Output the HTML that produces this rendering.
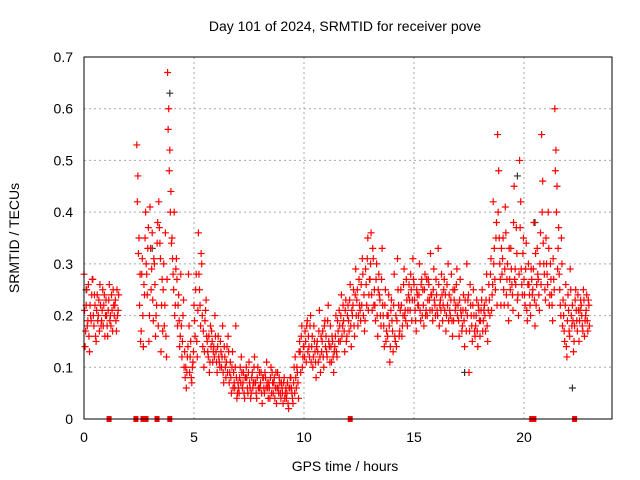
<!DOCTYPE html>
<html><head><meta charset="utf-8"><style>
body{margin:0;background:#fff;}
svg{display:block;font-family:"Liberation Sans",sans-serif;}
</style></head><body>
<svg id="chart" width="640" height="480" viewBox="0 0 640 480">
<text x="345" y="31" font-size="14" text-anchor="middle">Day 101 of 2024, SRMTID for receiver pove</text>
<text x="345" y="471" font-size="14" text-anchor="middle">GPS time / hours</text>
<text transform="translate(19,238) rotate(-90)" font-size="14" text-anchor="middle">SRMTID / TECUs</text>
<g id="grid"></g>
<g id="ticks"></g>
<g id="black"></g>
<g id="red"></g>
<rect x="84" y="57" width="528" height="362" fill="none" stroke="#000" stroke-width="1"/>
</svg>
<script>
const xTicks=[0,5,10,15,20];
const yTicks=[0,0.1,0.2,0.3,0.4,0.5,0.6,0.7];
const yTickLabels=["0","0.1","0.2","0.3","0.4","0.5","0.6","0.7"];
const hours=[0,0.2,0.4,0.6,0.8,1.0,1.2,1.4,2.4,2.6,2.8,3.0,3.2,3.4,3.6,3.8,4.0,4.2,4.4,4.6,4.8,5.0,5.2,5.4,5.6,5.8,6.0,6.2,6.4,6.6,6.8,7.0,7.2,7.4,7.6,7.8,8.0,8.2,8.4,8.6,8.8,9.0,9.2,9.4,9.6,9.8,10.0,10.2,10.4,10.6,10.8,11.0,11.2,11.4,11.6,11.8,12.0,12.2,12.4,12.6,12.8,13.0,13.2,13.4,13.6,13.8,14.0,14.2,14.4,14.6,14.8,15.0,15.2,15.4,15.6,15.8,16.0,16.2,16.4,16.6,16.8,17.0,17.2,17.4,17.6,17.8,18.0,18.2,18.4,18.6,18.8,19.0,19.2,19.4,19.6,19.8,20.0,20.2,20.4,20.6,20.8,21.0,21.2,21.4,21.6,21.8,22.0,22.2,22.4,22.6,22.8];
const srmtid=[[.28,.14,.22,.18],[.26,.13,.20,.24],[.27,.18,.22,.15],[.24,.20,.17,.22],[.19,.25,.22,.16],[.23,.18,.21,.26],[.20,.24,.17,.22],[.22,.19,.25,.21],
[.53,.47,.35,.28],[.17,.31,.14,.24],[.40,.28,.33,.15],[.41,.25,.36,.19],[.30,.16,.22,.38],[.42,.34,.13,.27],[.25,.18,.36,.12],[.67,.60,.52,.44],[.35,.28,.40,.22],[.31,.18,.24,.14],[.28,.12,.20,.10],[.08,.06,.12,.28],[.09,.15,.07,.11],
[.22,.16,.28,.12],[.36,.25,.18,.30],[.14,.10,.19,.23],[.15,.12,.09,.18],[.17,.11,.14,.20],[.13,.09,.16,.11],[.15,.10,.18,.07],[.12,.08,.14,.16],[.07,.11,.05,.13],[.09,.06,.18,.04],
[.07,.05,.10,.12],[.06,.09,.04,.08],[.08,.05,.11,.06],[.05,.09,.07,.12],[.07,.04,.10,.06],[.06,.09,.03,.08],[.05,.08,.11,.06],[.07,.04,.10,.09],[.05,.08,.06,.03],[.09,.05,.07,.04],
[.06,.03,.08,.05],[.04,.07,.02,.06],[.08,.05,.03,.10],[.12,.06,.09,.04],[.15,.09,.18,.12],[.14,.17,.11,.19],[.16,.12,.20,.14],[.10,.18,.13,.08],[.15,.11,.21,.09],[.13,.17,.10,.19],
[.16,.12,.22,.14],[.18,.11,.15,.09],[.14,.20,.12,.17],[.21,.15,.24,.18],[.19,.13,.23,.16],[.22,.17,.26,.14],[.20,.25,.16,.29],[.23,.18,.27,.21],[.26,.31,.20,.17],[.29,.22,.35,.24],
[.27,.36,.21,.31],[.25,.19,.30,.16],[.28,.23,.18,.33],[.20,.14,.25,.17],[.16,.24,.11,.21],[.19,.13,.28,.15],[.14,.31,.22,.17],[.25,.16,.20,.29],[.21,.27,.18,.24],[.23,.28,.19,.31],
[.26,.21,.17,.24],[.22,.30,.19,.27],[.25,.18,.28,.21],[.20,.27,.23,.32],[.24,.19,.29,.22],[.27,.21,.33,.18],[.23,.28,.19,.25],[.21,.17,.26,.30],[.24,.20,.28,.16],[.19,.25,.22,.29],
[.22,.16,.27,.20],[.18,.24,.14,.21],[.30,.23,.09,.26],[.20,.15,.25,.17],[.18,.23,.14,.21],[.16,.21,.25,.19],[.22,.17,.28,.15],[.26,.20,.31,.24],[.42,.33,.25,.38],[.55,.48,.30,.22],
[.28,.35,.22,.41],[.24,.30,.19,.27],[.33,.26,.21,.45],[.29,.37,.23,.20],[.50,.42,.26,.32],[.27,.22,.34,.19],[.30,.24,.20,.27],[.25,.38,.18,.22],[.33,.27,.21,.36],[.55,.46,.30,.25],
[.35,.28,.40,.22],[.30,.24,.19,.27],[.60,.52,.45,.33],[.28,.22,.35,.18],[.20,.15,.26,.12],[.24,.17,.29,.20],[.22,.13,.18,.25],[.19,.24,.15,.21],[.22,.18,.25,.16],[.20,.24,.17,.22]];
const srmtid2=[[.21,.17,.25,.19],[.16,.22,.19,.27],[.20,.24,.16,.21],[.19,.23,.26,.18],[.21,.18,.24,.20],[.20,.16,.23,.19],[.18,.21,.25,.20],[.23,.17,.20,.24],
[.42,.32,.22,.15],[.28,.20,.26,.35],[.30,.24,.37,.20],[.33,.29,.23,.31],[.26,.20,.34,.18],[.37,.31,.22,.17],[.30,.22,.16,.27],[.56,.48,.40,.34],[.31,.25,.20,.29],[.27,.22,.19,.16],[.18,.15,.23,.13],[.10,.09,.14,.18],[.12,.08,.10,.13],
[.19,.25,.15,.21],[.28,.22,.32,.20],[.17,.13,.21,.16],[.13,.16,.11,.14],[.15,.13,.12,.16],[.11,.14,.12,.10],[.13,.12,.09,.14],[.10,.11,.09,.13],[.09,.08,.10,.06],[.07,.10,.08,.05],
[.06,.08,.07,.09],[.07,.05,.08,.10],[.06,.09,.07,.04],[.08,.06,.10,.07],[.05,.08,.06,.09],[.07,.05,.08,.06],[.09,.06,.07,.04],[.06,.08,.05,.07],[.07,.04,.09,.06],[.06,.08,.05,.07],
[.05,.07,.04,.06],[.05,.03,.06,.08],[.06,.04,.07,.05],[.08,.10,.07,.13],[.13,.16,.10,.14],[.12,.15,.18,.13],[.14,.18,.11,.16],[.12,.15,.11,.14],[.13,.17,.12,.16],[.15,.12,.18,.14],
[.13,.19,.15,.11],[.14,.16,.12,.13],[.16,.13,.19,.15],[.18,.20,.16,.22],[.17,.21,.15,.20],[.19,.23,.18,.21],[.22,.18,.24,.20],[.25,.20,.22,.19],[.22,.28,.24,.19],[.26,.31,.21,.27],
[.30,.24,.33,.22],[.22,.27,.20,.25],[.24,.20,.27,.22],[.18,.22,.15,.20],[.20,.18,.14,.23],[.17,.22,.16,.20],[.19,.25,.16,.21],[.22,.18,.26,.20],[.19,.23,.21,.26],[.21,.25,.23,.27],
[.23,.19,.25,.22],[.24,.21,.26,.20],[.22,.25,.20,.27],[.23,.26,.21,.24],[.21,.25,.23,.20],[.24,.20,.26,.22],[.21,.24,.22,.27],[.24,.20,.22,.19],[.21,.23,.19,.25],[.23,.21,.26,.20],
[.19,.23,.21,.17],[.21,.19,.23,.17],[.20,.24,.17,.22],[.18,.22,.20,.16],[.20,.17,.22,.19],[.19,.23,.17,.21],[.20,.23,.18,.21],[.23,.28,.21,.26],[.30,.27,.35,.22],[.40,.35,.27,.33],
[.31,.25,.29,.36],[.27,.22,.33,.25],[.29,.24,.38,.27],[.26,.32,.24,.28],[.37,.29,.24,.35],[.24,.29,.21,.26],[.26,.22,.29,.24],[.29,.23,.32,.26],[.28,.24,.30,.26],[.40,.34,.28,.23],
[.30,.26,.33,.24],[.27,.22,.31,.25],[.48,.40,.29,.37],[.25,.20,.30,.23],[.17,.22,.14,.19],[.21,.16,.25,.18],[.19,.15,.23,.21],[.17,.21,.19,.23],[.20,.17,.23,.19],[.21,.19,.23,.18]];
const blackHours=[0.1,2.7,3.1,3.9,17.3,19.7,20.5,22.2];
const blackValues=[.25,.14,.33,.63,.09,.47,.38,.06];
const zeroHours=[1.14,2.36,2.68,2.82,3.32,3.9,12.1,20.35,20.45,22.3];

const NS="http://www.w3.org/2000/svg";
const xs=t=>84+t*22;
const ys=v=>419-v*(362/0.7);
function mk(tag,attrs,parent){const e=document.createElementNS(NS,tag);for(const k in attrs)e.setAttribute(k,attrs[k]);parent.appendChild(e);return e;}
const grid=document.getElementById('grid'),ticks=document.getElementById('ticks');
xTicks.forEach(t=>{
  if(t>0){const l=mk('line',{x1:xs(t),x2:xs(t),y1:57,y2:419,stroke:'#aaa','stroke-dasharray':'2,3'},grid);
  
  }
  const tx=mk('text',{x:xs(t),y:442,'font-size':14,'text-anchor':'middle'},ticks);tx.textContent=t;
  
  
});
yTicks.forEach((v,i)=>{
  if(v>0&&v<0.7){const l=mk('line',{x1:84,x2:612,y1:ys(v),y2:ys(v),stroke:'#aaa','stroke-dasharray':'2,3'},grid);
  
  }
  const tx=mk('text',{x:73,y:ys(v)+5,'font-size':14,'text-anchor':'end'},ticks);tx.textContent=yTickLabels[i];
  
  
});
function plus(x,y,col,parent,name){
  const p=mk('path',{d:`M${x-3.5},${y}h7M${x},${y-3.5}v7`,stroke:col,'stroke-width':1.2,fill:'none'},parent);
  
  
}
const black=document.getElementById('black'),red=document.getElementById('red');
blackHours.forEach((t,i)=>plus(xs(t),ys(blackValues[i]),'#333',black,'black-point'));
hours.forEach((t,i)=>{
  srmtid[i].forEach((v,j)=>plus(xs(t+j*0.05),ys(v),'#f00',red,'red-point'));
  srmtid2[i].forEach((v,j)=>plus(xs(t+0.025+j*0.05),ys(v),'#f00',red,'red-point'));
});
zeroHours.forEach(t=>{
  const r=mk('rect',{x:xs(t)-2.5,y:416,width:5,height:6,fill:'#f00'},red);
  
  
});
</script>
</body></html>
